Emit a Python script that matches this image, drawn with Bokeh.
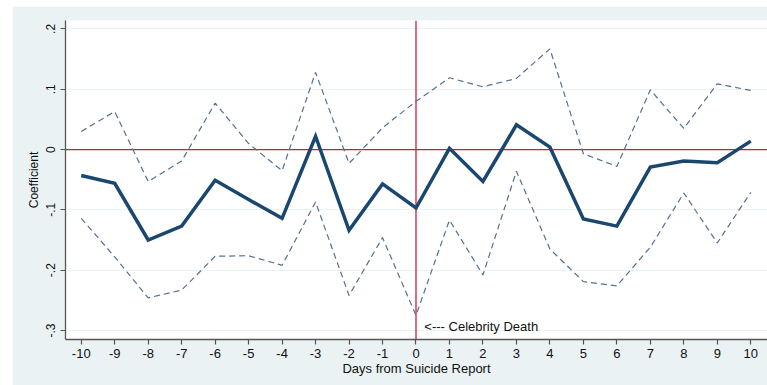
from bokeh.plotting import figure
from bokeh.models import Range1d, FixedTicker, Label, Span
from bokeh.embed import file_html
from bokeh.resources import INLINE

# ---- data ----
days = [-10, -9, -8, -7, -6, -5, -4, -3, -2, -1, 0, 1, 2, 3, 4, 5, 6, 7, 8, 9, 10]
day_labels = ["-10", "-9", "-8", "-7", "-6", "-5", "-4", "-3", "-2", "-1", "0",
              "1", "2", "3", "4", "5", "6", "7", "8", "9", "10"]
coef = [-0.043, -0.056, -0.150, -0.127, -0.051, -0.083, -0.114, 0.022, -0.134, -0.057, -0.097,
        0.002, -0.053, 0.041, 0.004, -0.115, -0.127, -0.029, -0.019, -0.022, 0.014]
upper = [0.030, 0.063, -0.053, -0.019, 0.077, 0.010, -0.035, 0.128, -0.023, 0.036, 0.080,
         0.119, 0.104, 0.118, 0.167, -0.007, -0.028, 0.099, 0.035, 0.109, 0.098]
lower = [-0.114, -0.178, -0.246, -0.233, -0.177, -0.176, -0.192, -0.087, -0.242, -0.146, -0.275,
         -0.117, -0.208, -0.036, -0.165, -0.219, -0.226, -0.162, -0.072, -0.155, -0.071]
y_ticks = [-0.3, -0.2, -0.1, 0.0, 0.1, 0.2]
y_tick_labels = ["-.3", "-.2", "-.1", "0", ".1", ".2"]
x_title = "Days from Suicide Report"
y_title = "Coefficient"
zero_line = 0.0
event_day = 0
note_text = "<--- Celebrity Death"
note_x = 0.25
note_y = -0.294

FONT = "Liberation Sans"
BG = "#eaf2f3"
NAVY = "#1a476f"
CI = "#56708f"
RED = "#d01c3c"
AXIS = "#555555"

p = figure(width=755, height=379,
           x_range=Range1d(-10.47, 10.5), y_range=Range1d(-0.315, 0.214),
           output_backend="svg", toolbar_location=None,
           min_border_left=53, min_border_right=0, min_border_top=14, min_border_bottom=46,
           background_fill_color="white", border_fill_color=BG)
p.margin = (6, 0, 0, 12)
p.outline_line_color = None

# grid
p.xgrid.grid_line_color = None
p.ygrid.grid_line_color = BG
p.ygrid.grid_line_width = 1
p.ygrid.ticker = FixedTicker(ticks=y_ticks)

# axes
p.xaxis.ticker = FixedTicker(ticks=days)
p.xaxis.major_label_overrides = {d: l for d, l in zip(days, day_labels)}
p.yaxis.ticker = FixedTicker(ticks=y_ticks)
p.yaxis.major_label_overrides = {t: l for t, l in zip(y_ticks, y_tick_labels)}
p.yaxis.major_label_orientation = "vertical"
for ax in (p.xaxis[0], p.yaxis[0]):
    ax.axis_line_color = AXIS
    ax.axis_line_width = 1.3
    ax.major_tick_line_color = AXIS
    ax.major_tick_line_width = 1.2
    ax.major_tick_in = 0
    ax.major_tick_out = 5
    ax.minor_tick_line_color = None
    ax.major_label_text_font = FONT
    ax.major_label_text_color = "#111111"
    ax.axis_label_text_font = FONT
    ax.axis_label_text_font_style = "normal"
    ax.axis_label_text_color = "#111111"
p.xaxis.major_label_text_font_size = "13px"
p.xaxis.axis_label_text_font_size = "13px"
p.xaxis.major_label_standoff = 4
p.xaxis.axis_label_standoff = 0
p.xaxis.axis_label = x_title
p.yaxis.major_label_text_font_size = "12px"
p.yaxis.axis_label_text_font_size = "12px"
p.yaxis.major_label_standoff = 5
p.yaxis.axis_label_standoff = 3
p.yaxis.axis_label = y_title

# reference lines
p.add_layout(Span(location=zero_line, dimension="width", line_color=RED, line_width=1.3,
                  level="underlay"))
p.add_layout(Span(location=event_day, dimension="height", line_color=RED, line_width=1.3,
                  level="underlay"))

# data
p.line(days, upper, line_color=CI, line_width=1.2, line_dash="6 4")
p.line(days, lower, line_color=CI, line_width=1.2, line_dash="6 4")
p.line(days, coef, line_color=NAVY, line_width=3.5, line_join="miter")

p.add_layout(Label(x=note_x, y=note_y, text=note_text, text_font=FONT,
                   text_font_size="13px", text_baseline="middle", text_color="#111111"))

open("out.html", "w").write(file_html(p, INLINE))
